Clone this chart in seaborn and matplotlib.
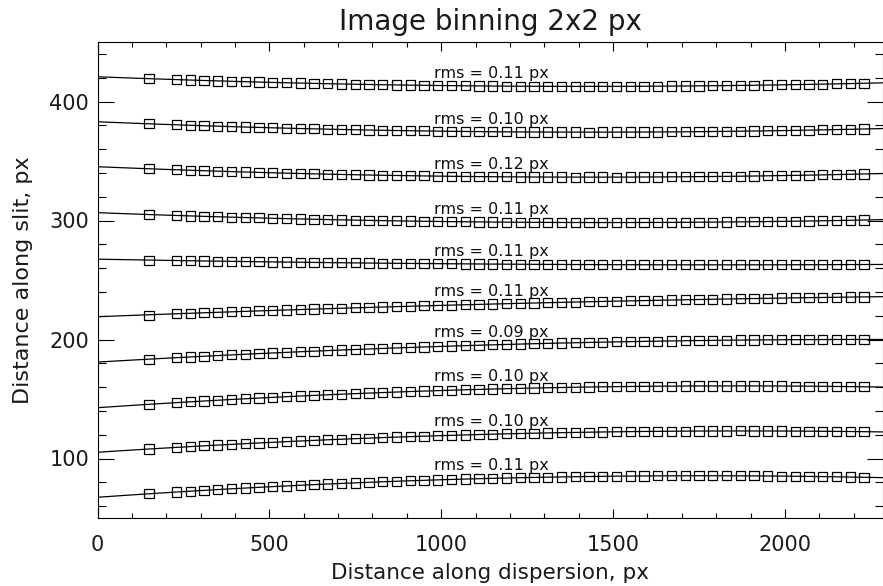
import matplotlib
matplotlib.use("Agg")
import matplotlib.pyplot as plt
import matplotlib.transforms as mtransforms
import seaborn as sns
import numpy as np
from matplotlib.ticker import MultipleLocator

# ---------------- data ----------------
x_pos = [150, 230, 270, 310, 350, 390, 430, 470, 510, 550, 590, 630, 670, 710,
         750, 790, 830, 870, 910, 950, 990, 1030, 1070, 1110, 1150, 1190, 1230,
         1270, 1310, 1350, 1390, 1430, 1470, 1510, 1550, 1590, 1630, 1670, 1710,
         1750, 1790, 1830, 1870, 1910, 1950, 1990, 2030, 2070, 2110, 2150, 2190, 2230]

curve_01 = [419.2, 418.4, 418.0, 417.7, 417.3, 417.0, 416.6, 416.3, 416.0, 415.8,
            415.5, 415.2, 415.0, 414.7, 414.5, 414.3, 414.1, 413.9, 413.8, 413.6,
            413.5, 413.3, 413.2, 413.1, 413.0, 412.9, 412.9, 412.8, 412.8, 412.7,
            412.7, 412.7, 412.7, 412.7, 412.8, 412.8, 412.9, 413.0, 413.0, 413.1,
            413.2, 413.4, 413.5, 413.7, 413.8, 414.0, 414.2, 414.4, 414.6, 414.8,
            415.1, 415.3]
curve_02 = [381.3, 380.4, 380.0, 379.6, 379.3, 378.9, 378.5, 378.2, 377.9, 377.6,
            377.3, 377.0, 376.7, 376.5, 376.3, 376.0, 375.8, 375.6, 375.4, 375.3,
            375.1, 375.0, 374.8, 374.7, 374.6, 374.5, 374.4, 374.4, 374.3, 374.3,
            374.3, 374.2, 374.3, 374.3, 374.3, 374.3, 374.4, 374.5, 374.6, 374.7,
            374.8, 374.9, 375.0, 375.2, 375.4, 375.5, 375.7, 375.9, 376.2, 376.4,
            376.6, 376.9]
curve_03 = [343.5, 342.6, 342.2, 341.8, 341.5, 341.1, 340.8, 340.4, 340.1, 339.8,
            339.5, 339.2, 338.9, 338.7, 338.5, 338.2, 338.0, 337.8, 337.6, 337.5,
            337.3, 337.2, 337.0, 336.9, 336.8, 336.7, 336.6, 336.6, 336.5, 336.5,
            336.4, 336.5, 336.5, 336.4, 336.5, 336.5, 336.6, 336.7, 336.8, 336.9,
            337.0, 337.1, 337.2, 337.4, 337.6, 337.7, 337.9, 338.1, 338.4, 338.6,
            338.8, 339.1]
curve_04 = [305.0, 304.2, 303.8, 303.5, 303.1, 302.8, 302.5, 302.2, 301.9, 301.6,
            301.3, 301.0, 300.8, 300.5, 300.3, 300.1, 299.9, 299.7, 299.5, 299.4,
            299.2, 299.1, 298.9, 298.8, 298.7, 298.6, 298.5, 298.5, 298.4, 298.3,
            298.3, 298.3, 298.3, 298.3, 298.3, 298.3, 298.4, 298.4, 298.5, 298.6,
            298.6, 298.7, 298.9, 299.0, 299.1, 299.3, 299.4, 299.6, 299.8, 300.0,
            300.2, 300.4]
curve_05 = [266.7, 266.4, 266.2, 266.0, 265.8, 265.7, 265.5, 265.4, 265.2, 265.1,
            264.9, 264.8, 264.6, 264.5, 264.4, 264.3, 264.1, 264.0, 263.9, 263.8,
            263.7, 263.6, 263.5, 263.5, 263.4, 263.3, 263.2, 263.2, 263.1, 263.1,
            263.0, 263.0, 262.9, 262.9, 262.8, 262.8, 262.8, 262.8, 262.8, 262.8,
            262.7, 262.7, 262.8, 262.8, 262.8, 262.8, 262.8, 262.8, 262.9, 262.9,
            263.0, 263.0]
curve_06 = [220.4, 221.7, 222.1, 222.5, 222.9, 223.3, 223.7, 224.1, 224.5, 224.8,
            225.2, 225.6, 225.9, 226.3, 226.6, 227.0, 227.3, 227.6, 227.9, 228.3,
            228.6, 228.9, 229.2, 229.5, 229.8, 230.1, 230.4, 230.6, 230.9, 231.2,
            231.4, 231.7, 232.0, 232.2, 232.5, 232.7, 232.9, 233.2, 233.4, 233.6,
            233.8, 234.0, 234.2, 234.4, 234.6, 234.8, 235.0, 235.2, 235.3, 235.5,
            235.7, 235.8]
curve_07 = [183.5, 184.7, 185.3, 185.9, 186.5, 187.1, 187.6, 188.2, 188.7, 189.2,
            189.7, 190.2, 190.7, 191.2, 191.6, 192.1, 192.5, 192.9, 193.3, 193.7,
            194.1, 194.5, 194.8, 195.2, 195.5, 195.8, 196.2, 196.5, 196.7, 197.0,
            197.3, 197.5, 197.8, 198.0, 198.2, 198.4, 198.6, 198.8, 199.0, 199.1,
            199.3, 199.4, 199.5, 199.6, 199.7, 199.8, 199.9, 199.9, 200.0, 200.0,
            200.0, 200.0]
curve_08 = [145.5, 147.0, 147.6, 148.3, 149.0, 149.6, 150.2, 150.8, 151.4, 152.0,
            152.5, 153.0, 153.5, 154.0, 154.5, 155.0, 155.4, 155.9, 156.3, 156.7,
            157.0, 157.4, 157.7, 158.1, 158.4, 158.7, 158.9, 159.2, 159.4, 159.7,
            159.9, 160.1, 160.2, 160.4, 160.5, 160.6, 160.7, 160.8, 160.9, 161.0,
            161.0, 161.0, 161.0, 161.0, 161.0, 160.9, 160.8, 160.8, 160.7, 160.5,
            160.4, 160.3]
curve_09 = [108.0, 109.3, 110.0, 110.6, 111.3, 111.9, 112.5, 113.1, 113.6, 114.2,
            114.7, 115.2, 115.7, 116.2, 116.7, 117.1, 117.6, 118.0, 118.4, 118.8,
            119.1, 119.5, 119.8, 120.1, 120.4, 120.7, 121.0, 121.3, 121.5, 121.7,
            121.9, 122.1, 122.3, 122.5, 122.6, 122.7, 122.8, 122.9, 123.0, 123.1,
            123.1, 123.1, 123.2, 123.1, 123.1, 123.1, 123.0, 123.0, 122.9, 122.8,
            122.7, 122.5]
curve_10 = [70.4, 71.8, 72.5, 73.2, 73.9, 74.5, 75.2, 75.8, 76.4, 76.9,
            77.5, 78.0, 78.6, 79.1, 79.5, 80.0, 80.5, 80.9, 81.3, 81.7,
            82.0, 82.4, 82.7, 83.0, 83.3, 83.6, 83.9, 84.1, 84.3, 84.5,
            84.7, 84.9, 85.0, 85.1, 85.3, 85.3, 85.4, 85.5, 85.5, 85.5,
            85.5, 85.5, 85.4, 85.4, 85.3, 85.2, 85.1, 85.0, 84.8, 84.6,
            84.4, 84.2]

rms_values = [0.11, 0.10, 0.12, 0.11, 0.11, 0.11, 0.09, 0.10, 0.10, 0.11]

title_text = "Image binning 2x2 px"
xlabel_text = "Distance along dispersion, px"
ylabel_text = "Distance along slit, px"

curves = [curve_01, curve_02, curve_03, curve_04, curve_05,
          curve_06, curve_07, curve_08, curve_09, curve_10]

# ---------------- style ----------------
sns.set_style("ticks")
plt.rcParams["font.family"] = ["DejaVu Sans"]
plt.rcParams["axes.linewidth"] = 0.8
plt.rcParams["text.color"] = "#1a1a1a"

fig = plt.figure(figsize=(8.83, 5.86), dpi=100)
ax = fig.add_axes([97.5 / 883, 68 / 586, 785 / 883, 476 / 586])
ax.set_xlim(0, 2284)
ax.set_ylim(50, 450)

xs = np.array(x_pos, dtype=float)
for ys in curves:
    sns.regplot(x=xs, y=np.array(ys), order=2, ci=None, truncate=False, ax=ax,
                color="black", marker="s",
                scatter_kws=dict(facecolors="none", edgecolors="black", s=44,
                                 linewidths=0.9, alpha=1, zorder=3),
                line_kws=dict(color="black", lw=0.9, zorder=2))

ax.set_xlim(0, 2284)
ax.set_ylim(50, 450)

# rms annotation sits just above each curve near the middle of the plot
label_x = 1145
mid_idx = x_pos.index(1150)
shift_up = mtransforms.ScaledTranslation(0, 12.5 / 100, fig.dpi_scale_trans)
for ys, v in zip(curves, rms_values):
    ax.text(label_x, ys[mid_idx], f"rms = {v:.2f} px",
            ha="center", va="center", fontsize=11.5, color="#111111",
            transform=ax.transData + shift_up)

ax.xaxis.set_major_locator(MultipleLocator(500))
ax.xaxis.set_minor_locator(MultipleLocator(100))
ax.yaxis.set_major_locator(MultipleLocator(100))
ax.yaxis.set_minor_locator(MultipleLocator(20))

ax.tick_params(which="both", direction="in", top=True, right=True,
               width=0.8, color="black", labelcolor="#1a1a1a", labelsize=15)
ax.tick_params(axis="x", which="major", length=6.5, pad=12)
ax.tick_params(axis="x", which="minor", length=3.3)
ax.tick_params(axis="y", which="major", length=11.5, pad=6)
ax.tick_params(axis="y", which="minor", length=5.8)

for s in ax.spines.values():
    s.set_visible(True)
    s.set_color("black")
    s.set_linewidth(0.8)

ax.set_title(title_text, fontsize=20, pad=9, color="#1a1a1a")
ax.set_xlabel(xlabel_text, fontsize=15.5, labelpad=6, color="#1a1a1a")
ax.set_ylabel(ylabel_text, fontsize=16, color="#1a1a1a")
ax.yaxis.set_label_coords((33 - 97.5) / 785, 0.5)

fig.savefig("out.png", dpi=100)
